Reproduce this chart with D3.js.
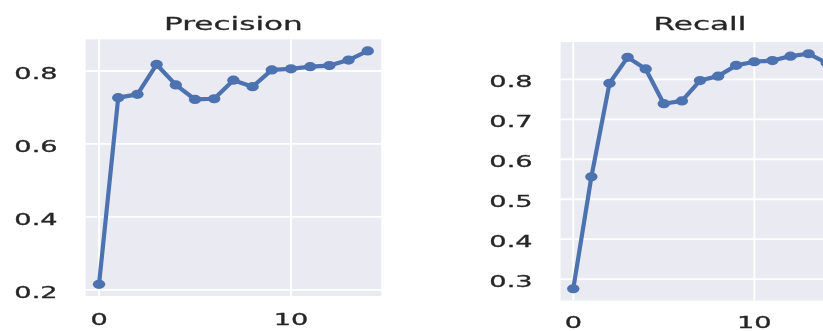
<!DOCTYPE html>
<html>
<head>
<meta charset="utf-8">
<script src="https://cdn.jsdelivr.net/npm/d3@7"></script>
<style>
  html, body { margin: 0; padding: 0; background: #fff; }
  svg { display: block; filter: blur(0.45px); }
</style>
</head>
<body>
<svg id="chart" width="823" height="331"></svg>
<script>
// Training curves per epoch
const epochs = d3.range(0, 15);
const precision = [0.215, 0.727, 0.736, 0.818, 0.762, 0.722, 0.724, 0.775, 0.757, 0.803, 0.806, 0.812, 0.815, 0.830, 0.855];
const recall = [0.276, 0.556, 0.790, 0.855, 0.826, 0.739, 0.746, 0.797, 0.808, 0.835, 0.844, 0.847, 0.858, 0.864, 0.841];
const xTicks = [0, 10];
const precisionTicks = [0.2, 0.4, 0.6, 0.8];
const recallTicks = [0.3, 0.4, 0.5, 0.6, 0.7, 0.8];
const titles = ["Precision", "Recall"];

const svg = d3.select("#chart");
const STRETCH = 1.7;           // horizontal stretch of the text glyphs
const textColor = "#262626";
const lineColor = "#4c72b0";

const panels = [
  { title: titles[0], values: precision, yTicks: precisionTicks,
    xRange: [85.6, 381.2], yRange: [296, 39.3], titleY: 30, tickLabelY: 325 },
  { title: titles[1], values: recall, yTicks: recallTicks,
    xRange: [560.6, 839.4], yRange: [300.5, 42], titleY: 30, tickLabelY: 328 }
];

// matplotlib-style 5% margins around the data
function padded(ext) {
  const m = (ext[1] - ext[0]) * 0.05;
  return [ext[0] - m, ext[1] + m];
}

function styleText(sel, size) {
  sel.attr("font-family", "DejaVu Sans")
    .attr("font-size", size)
    .attr("fill", textColor)
    .attr("stroke", textColor)
    .attr("stroke-width", 0.3);
}

panels.forEach(p => {
  const x = d3.scaleLinear().domain(padded([0, epochs.length - 1])).range(p.xRange);
  const y = d3.scaleLinear().domain(padded(d3.extent(p.values))).range(p.yRange);
  const g = svg.append("g");

  const [x0, x1] = p.xRange;
  const [yb, yt] = p.yRange;

  g.append("rect")
    .attr("x", x0).attr("y", yt)
    .attr("width", x1 - x0).attr("height", yb - yt)
    .attr("fill", "#eaeaf2");

  // grid
  g.selectAll(".gy").data(p.yTicks).join("line")
    .attr("x1", x0).attr("x2", x1)
    .attr("y1", d => y(d)).attr("y2", d => y(d))
    .attr("stroke", "#fff").attr("stroke-width", 1.8);
  g.selectAll(".gx").data(xTicks).join("line")
    .attr("y1", yt).attr("y2", yb)
    .attr("x1", d => x(d)).attr("x2", d => x(d))
    .attr("stroke", "#fff").attr("stroke-width", 1.8);

  // y tick labels
  g.selectAll(".yl").data(p.yTicks).join("text")
    .attr("transform", d => `translate(${x0 - 28},${y(d) + 8}) scale(${STRETCH},1)`)
    .attr("text-anchor", "end")
    .call(styleText, 16)
    .text(d => d3.format(".1f")(d));

  // x tick labels
  g.selectAll(".xl").data(xTicks).join("text")
    .attr("transform", d => `translate(${x(d)},${p.tickLabelY}) scale(${STRETCH},1)`)
    .attr("text-anchor", "middle")
    .call(styleText, 16)
    .text(d => d);

  // title
  g.append("text")
    .attr("transform", `translate(${(x0 + x1) / 2},${p.titleY}) scale(${STRETCH},1)`)
    .attr("text-anchor", "middle")
    .call(styleText, 18.3)
    .text(p.title);

  // series
  const line = d3.line().x((d, i) => x(epochs[i])).y(d => y(d));
  g.append("path")
    .datum(p.values)
    .attr("d", line)
    .attr("fill", "none")
    .attr("stroke", lineColor)
    .attr("stroke-width", 4.2)
    .attr("stroke-linejoin", "round");
  g.selectAll(".pt").data(p.values).join("ellipse")
    .attr("cx", (d, i) => x(epochs[i]))
    .attr("cy", d => y(d))
    .attr("rx", 6.2).attr("ry", 4.6)
    .attr("fill", lineColor);
});
</script>
</body>
</html>
